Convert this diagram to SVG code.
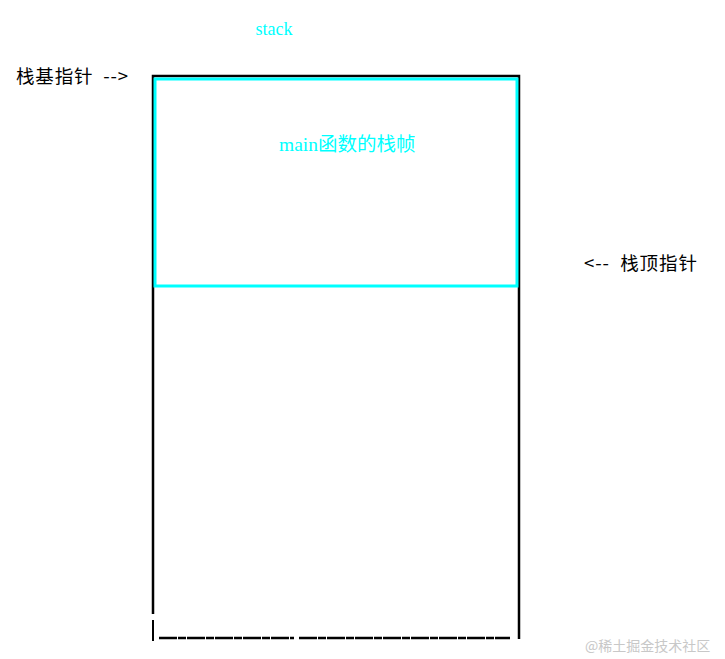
<svg xmlns="http://www.w3.org/2000/svg" width="725" height="659" viewBox="0 0 725 659">
<style>
.lbl{font-family:"Noto Sans CJK SC","Liberation Sans",sans-serif;font-size:18.5px;fill:#000;white-space:pre}
.cy{font-family:"Liberation Serif","Noto Sans CJK SC",serif;font-size:18px;fill:#00ffff}
</style>
<rect width="725" height="659" fill="#fff"/>
<g id="stack">
<path d="M153,614 V76 H519 V639" fill="none" stroke="#000" stroke-width="2.5"/>
<path d="M153,620 V641" stroke="#000" stroke-width="2"/>
<path d="M159,638 H294 M299,638 H510" stroke="#000" stroke-width="2.5" stroke-dasharray="18,1,8,1"/>
<text class="cy" x="274" y="35" text-anchor="middle">stack</text>
</g>
<g id="main-frame">
<rect x="155" y="79" width="362" height="207" fill="none" stroke="#00ffff" stroke-width="3"/>
<text class="cy" x="279" y="151" style="font-size:19.5px">main函数的栈帧</text>
</g>
<g id="labels">
<text class="lbl" x="16" y="83" xml:space="preserve" textLength="112">栈基指针  --&gt;</text>
<text class="lbl" x="584" y="270" xml:space="preserve" textLength="113">&lt;--  栈顶指针</text>
<text x="585" y="651" style="font-family:'Noto Sans CJK SC',sans-serif;font-size:14px;fill:#c8c8c8">@稀土掘金技术社区</text>
</g>
</svg>
